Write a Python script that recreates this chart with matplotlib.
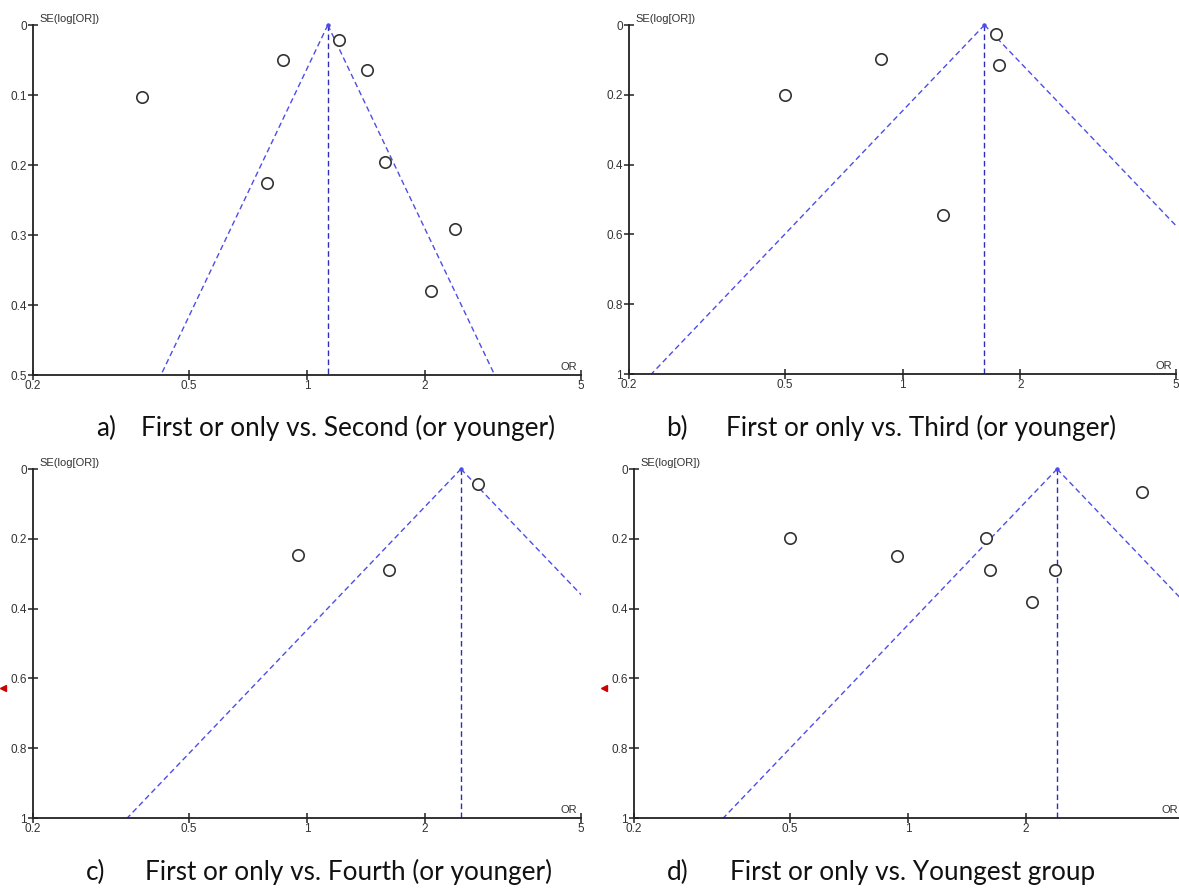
import matplotlib.pyplot as plt
import numpy as np

# ---- data (OR, SE(log OR)) ----
a_or = [0.38, 0.87, 1.21, 1.42, 1.58, 0.79, 2.39, 2.07]
a_se = [0.103, 0.050, 0.021, 0.064, 0.196, 0.226, 0.291, 0.380]
a_pooled = 1.13

b_or = [0.50, 0.88, 1.73, 1.76, 1.27]
b_se = [0.200, 0.097, 0.026, 0.115, 0.544]
b_pooled = 1.62

c_or = [2.73, 0.95, 1.62]
c_se = [0.043, 0.246, 0.289]
c_pooled = 2.47

d_or = [0.50, 0.94, 1.58, 1.62, 2.37, 2.07, 3.95]
d_se = [0.198, 0.249, 0.198, 0.289, 0.289, 0.381, 0.066]
d_pooled = 2.40

x_ticks = [0.2, 0.5, 1, 2, 5]
x_ticklabels = ["0.2", "0.5", "1", "2", "5"]
y_ticks_a = [0, 0.1, 0.2, 0.3, 0.4, 0.5]
y_ticklabels_a = ["0", "0.1", "0.2", "0.3", "0.4", "0.5"]
y_ticks_b = [0, 0.2, 0.4, 0.6, 0.8, 1.0]
y_ticklabels_b = ["0", "0.2", "0.4", "0.6", "0.8", "1"]

captions = [
    ("a)", "First or only vs. Second (or younger)"),
    ("b)", "First or only vs. Third (or younger)"),
    ("c)", "First or only vs. Fourth (or younger)"),
    ("d)", "First or only vs. Youngest group"),
]

W, H = 1179, 888
FUNNEL = "#4d4de8"
VLINE = "#2e2eb8"
TICKFONT = ["Liberation Sans Narrow", "Liberation Sans", "DejaVu Sans"]


def px_axes(fig, left, right, top, bottom):
    return fig.add_axes([left / W, 1 - bottom / H, (right - left) / W, (bottom - top) / H])


def funnel(ax, ors, ses, pooled, semax, yticks, yticklabels, marker_se=None):
    se_line = np.array([0.0, semax])
    ax.plot(pooled * np.exp(-1.96 * se_line), se_line, color=FUNNEL, lw=1.0,
            dashes=(4, 2.5))
    ax.plot(pooled * np.exp(1.96 * se_line), se_line, color=FUNNEL, lw=1.0,
            dashes=(4, 2.5))
    ax.plot([pooled, pooled], [0, semax], color=VLINE, lw=1.0, dashes=(4, 2.5))
    ax.plot([pooled], [0], 'o', color=FUNNEL, ms=2.2, clip_on=False)
    ax.plot(ors, ses, 'o', mfc='white', mec='#333333', mew=1.2, ms=8.2,
            ls='none', clip_on=False)

    ax.set_xscale('log')
    ax.set_xlim(0.2, 5)
    ax.set_ylim(semax, 0)
    ax.set_xticks(x_ticks)
    ax.set_xticklabels(x_ticklabels)
    ax.xaxis.set_minor_locator(plt.NullLocator())
    ax.set_yticks(yticks)
    ax.set_yticklabels(yticklabels)
    for lab in ax.get_xticklabels() + ax.get_yticklabels():
        lab.set_family(TICKFONT)
        lab.set_fontsize(8.5)
        lab.set_color('#333333')
    ax.tick_params(direction='inout', length=7, width=1.1, color='#222222')
    ax.tick_params(axis='x', pad=0)
    ax.tick_params(axis='y', pad=1)
    for s in ['top', 'right']:
        ax.spines[s].set_visible(False)
    for s in ['left', 'bottom']:
        ax.spines[s].set_linewidth(1.3)
        ax.spines[s].set_color('#222222')
    ax.patch.set_alpha(0)

    ax.annotate("SE(log[OR])", xy=(0, 1), xycoords='axes fraction',
                xytext=(5, 1), textcoords='offset points', ha='left', va='bottom',
                fontsize=8, family=TICKFONT, color='#333333')
    ax.annotate("OR", xy=(1, 0), xycoords='axes fraction',
                xytext=(-3, 2), textcoords='offset points', ha='right', va='bottom',
                fontsize=8, family=TICKFONT, color='#333333')
    if marker_se is not None:
        ax.plot([0.168], [marker_se], marker='<', color='#cc0000', ms=4,
                clip_on=False, ls='none')


fig = plt.figure(figsize=(W / 100, H / 100), dpi=100)

ax_a = px_axes(fig, 33, 581, 25, 375)
funnel(ax_a, a_or, a_se, a_pooled, 0.5, y_ticks_a, y_ticklabels_a)

ax_b = px_axes(fig, 629, 1176, 25, 374)
funnel(ax_b, b_or, b_se, b_pooled, 1.0, y_ticks_b, y_ticklabels_b)

ax_c = px_axes(fig, 33, 581, 469, 818)
funnel(ax_c, c_or, c_se, c_pooled, 1.0, y_ticks_b, y_ticklabels_b, marker_se=0.627)

ax_d = px_axes(fig, 634, 1182, 469, 818)
funnel(ax_d, d_or, d_se, d_pooled, 1.0, y_ticks_b, y_ticklabels_b, marker_se=0.627)

# captions under each panel
cap_pos = [(116, 141, 428), (688, 726, 428), (105, 145, 872), (688, 730, 872)]
for (lab, txt), (xl, xt, yc) in zip(captions, cap_pos):
    fig.text(xl / W, 1 - yc / H, lab, ha='right', va='center', fontsize=18.8,
             family='Lato', color='#111111')
    fig.text(xt / W, 1 - yc / H, txt, ha='left', va='center', fontsize=18.8,
             family='Lato', color='#111111')

fig.savefig('out.png', dpi=100)
